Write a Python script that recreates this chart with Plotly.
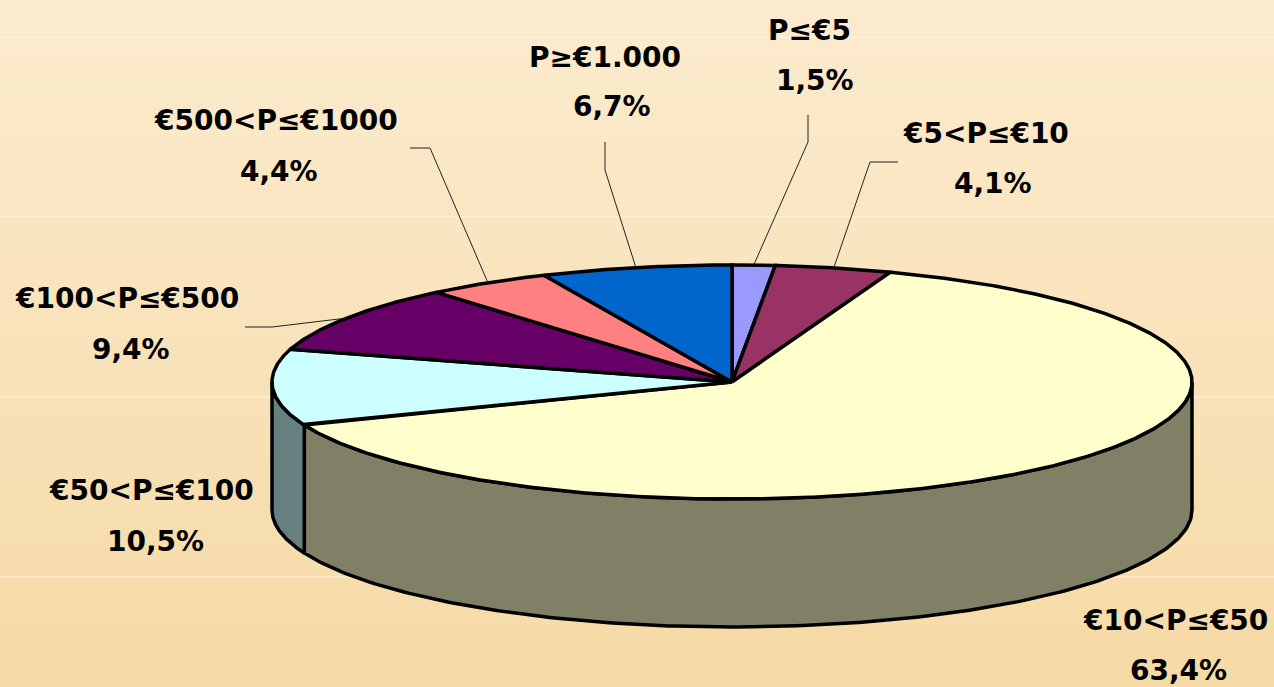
import numpy as np
import plotly.graph_objects as go

# ---------------- data ----------------
labels = ["P≤€5", "€5<P≤€10", "€10<P≤€50", "€50<P≤€100",
          "€100<P≤€500", "€500<P≤€1000", "P≥€1.000"]
values = [1.5, 4.1, 63.4, 10.5, 9.4, 4.4, 6.7]
pct_text = ["1,5%", "4,1%", "63,4%", "10,5%", "9,4%", "4,4%", "6,7%"]
top_colors = ["#9999FF", "#993366", "#FFFFCC", "#CCFFFF", "#660066", "#FF8080", "#0066CC"]
side_colors = ["#4D4D80", "#4D1A33", "#808066", "#668080", "#330033", "#804040", "#003366"]

# ---------------- layout geometry (pixels) ----------------
W, H = 1274, 687
CX, CY, RX, RY, DEPTH = 732, 382, 460, 117, 128
# (name_x, name_y, pct_x, pct_y)
label_pos = [(809, 30, 815, 80), (986, 133, 993, 183), (1175, 620, 1178, 670),
             (151, 490, 155, 541), (127, 298, 131, 349), (276, 120, 279, 171),
             (605, 57, 612, 106)]
# leader line: (end_x, end_y, knee_x, knee_y) or None
leaders = [(808, 115, 808, 142), (898, 162, 870, 162), None, None,
           (245, 327, 272, 327), (410, 148, 430, 148), (605, 142, 605, 170)]

TEXT_FONT = dict(family="DejaVu Sans", size=28, color="black")


def pt(theta_deg, dy=0.0):
    t = np.radians(theta_deg)
    return CX + RX * np.sin(t), CY - RY * np.cos(t) + dy


fig = go.Figure()

total = sum(values)
bounds = np.concatenate([[0], np.cumsum(values)]) / total * 360.0

# ---- side walls (front half: 90..270 deg) ----
for i in range(len(values)):
    a, b = bounds[i], bounds[i + 1]
    lo, hi = max(a, 90.0), min(b, 270.0)
    if hi <= lo:
        continue
    th = np.linspace(lo, hi, 200)
    xt, yt = pt(th)
    xb, yb = pt(th[::-1], DEPTH)
    xs = np.concatenate([xt, xb, xt[:1]])
    ys = np.concatenate([yt, yb, yt[:1]])
    fig.add_trace(go.Scatter(x=xs, y=ys, mode="lines", fill="toself",
                             fillcolor=side_colors[i],
                             line=dict(color="black", width=3.5),
                             hoverinfo="skip", showlegend=False))

# ---- top faces ----
for i in range(len(values)):
    a, b = bounds[i], bounds[i + 1]
    th = np.linspace(a, b, max(int((b - a) * 3), 8))
    xa, ya = pt(th)
    xs = np.concatenate([[CX], xa, [CX]])
    ys = np.concatenate([[CY], ya, [CY]])
    fig.add_trace(go.Scatter(x=xs, y=ys, mode="lines", fill="toself",
                             fillcolor=top_colors[i],
                             line=dict(color="black", width=3.5),
                             name=labels[i], hoverinfo="name", showlegend=False))

# ---- leader lines ----
for i in range(len(values)):
    if leaders[i] is None:
        continue
    mid = (bounds[i] + bounds[i + 1]) / 2
    ex, ey = pt(mid)
    x_end, y_end, kx, ky = leaders[i]
    fig.add_trace(go.Scatter(x=[ex, kx, x_end], y=[ey, ky, y_end], mode="lines",
                             line=dict(color="#222222", width=1),
                             hoverinfo="skip", showlegend=False))

# ---- labels ----
annotations = []
for i in range(len(values)):
    nx, ny, px, py = label_pos[i]
    annotations.append(dict(x=nx, y=ny, xref="x", yref="y", text="<b>%s</b>" % labels[i],
                            showarrow=False, font=TEXT_FONT, xanchor="center", yanchor="middle"))
    annotations.append(dict(x=px, y=py, xref="x", yref="y", text="<b>%s</b>" % pct_text[i],
                            showarrow=False, font=TEXT_FONT, xanchor="center", yanchor="middle"))

# ---- background gradient ----
def lerp(c1, c2, t):
    return "rgb(%d,%d,%d)" % tuple(round(c1[k] + (c2[k] - c1[k]) * t) for k in range(3))

top_bg, bot_bg = (251, 235, 206), (246, 218, 166)
shapes = []
N = 80
for k in range(N):
    shapes.append(dict(type="rect", xref="paper", yref="paper",
                       x0=0, x1=1, y0=1 - (k + 1) / N, y1=1 - k / N + 0.002,
                       fillcolor=lerp(top_bg, bot_bg, (k + 0.5) / N),
                       line=dict(width=0), layer="below"))
for yl in [37, 217, 397, 577]:
    shapes.append(dict(type="line", xref="paper", yref="y", x0=0, x1=1, y0=yl, y1=yl,
                       line=dict(color="rgba(255,250,240,0.8)", width=1), layer="below"))

fig.update_layout(
    width=W, height=H,
    margin=dict(l=0, r=0, t=0, b=0),
    paper_bgcolor="#F9E3BA", plot_bgcolor="rgba(0,0,0,0)",
    xaxis=dict(range=[0, W], visible=False, fixedrange=True),
    yaxis=dict(range=[H, 0], visible=False, fixedrange=True),
    shapes=shapes, annotations=annotations,
    showlegend=False,
)

fig.write_html("out.html",
               post_script="document.body.style.margin='0';document.body.style.overflow='hidden';",
               config={"displayModeBar": False})
